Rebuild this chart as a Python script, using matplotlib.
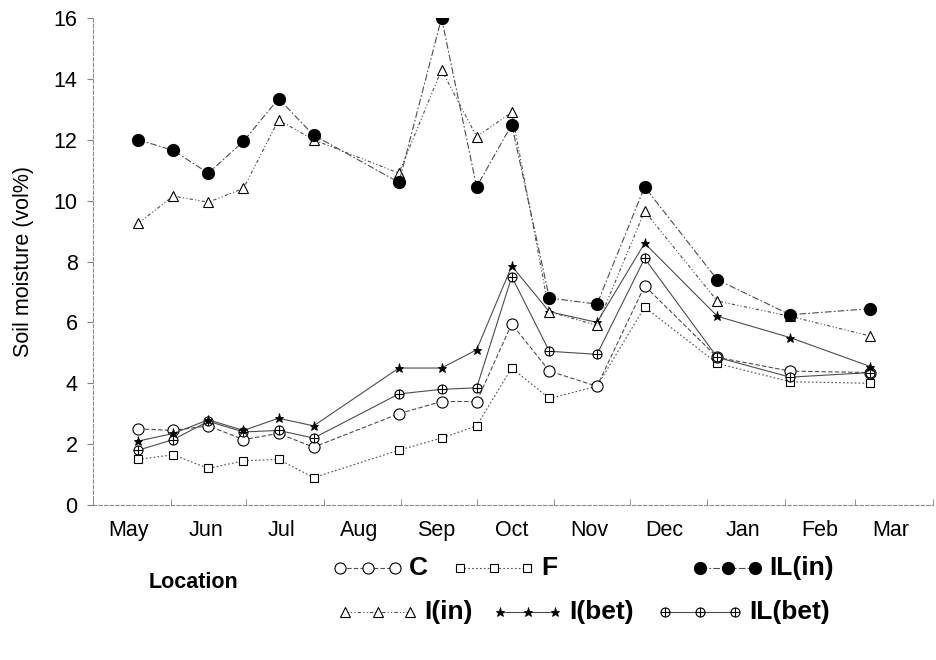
import matplotlib
matplotlib.use('Agg')
import matplotlib.pyplot as plt
import matplotlib.dates as mdates
from matplotlib.path import Path
import pandas as pd

plt.rcParams['font.family'] = ['Liberation Sans', 'DejaVu Sans']

# Sampling dates (year is arbitrary, only months are shown)
sample_dates = pd.to_datetime([
    '2001-05-19', '2001-06-02', '2001-06-16', '2001-06-30', '2001-07-14',
    '2001-07-28', '2001-08-31', '2001-09-17', '2001-10-01', '2001-10-15',
    '2001-10-30', '2001-11-18', '2001-12-07', '2002-01-05', '2002-02-03',
    '2002-03-07'])

# Soil moisture (vol%) per location
C = [2.5, 2.45, 2.6, 2.15, 2.35, 1.9, 3.0, 3.4, 3.4, 5.95, 4.4, 3.9, 7.2, 4.85, 4.4, 4.35]
F = [1.5, 1.65, 1.2, 1.45, 1.5, 0.9, 1.8, 2.2, 2.6, 4.5, 3.5, 3.9, 6.5, 4.65, 4.05, 4.0]
IL_in = [12.0, 11.65, 10.9, 11.95, 13.35, 12.15, 10.6, 16.0, 10.45, 12.5, 6.8, 6.6, 10.45, 7.4, 6.25, 6.45]
I_in = [9.25, 10.15, 9.95, 10.4, 12.65, 12.0, 10.9, 14.3, 12.1, 12.9, 6.35, 5.9, 9.65, 6.7, 6.2, 5.55]
I_bet = [2.1, 2.35, 2.8, 2.45, 2.85, 2.6, 4.5, 4.5, 5.1, 7.85, 6.35, 6.0, 8.6, 6.2, 5.5, 4.55]
IL_bet = [1.8, 2.15, 2.75, 2.4, 2.45, 2.2, 3.65, 3.8, 3.85, 7.5, 5.05, 4.95, 8.1, 4.85, 4.2, 4.35]

series = {'C': C, 'F': F, 'IL(in)': IL_in, 'I(in)': I_in, 'I(bet)': I_bet, 'IL(bet)': IL_bet}

# circle with a cross inside
oplus = Path.make_compound_path(
    Path.unit_circle(),
    Path([[-1, 0], [1, 0], [0, -1], [0, 1]],
         [Path.MOVETO, Path.LINETO, Path.MOVETO, Path.LINETO]))

line_col = '0.3'
styles = {
    'C': dict(ls=(0, (4, 2)), marker='o', ms=8, mfc='white', mec='black', mew=0.8),
    'F': dict(ls=(0, (1.5, 2)), marker='s', ms=6, mfc='white', mec='black', mew=0.8),
    'IL(in)': dict(ls=(0, (6, 2, 1.5, 2)), marker='o', ms=8.5, mfc='black', mec='black'),
    'I(in)': dict(ls=(0, (3, 2, 1, 2, 1, 2)), marker='^', ms=6.5, mfc='white', mec='black', mew=0.8),
    'I(bet)': dict(ls='-', marker='*', ms=6.5, mfc='black', mec='black', mew=0.6),
    'IL(bet)': dict(ls='-', marker=oplus, ms=6.5, mfc='white', mec='black', mew=0.8),
}

fig = plt.figure(figsize=(9.36, 6.6), dpi=100)

# overlay axes in pixel units for the hand-made legend block
lax = fig.add_axes([0, 0, 1, 1])
lax.set_xlim(0, 936)
lax.set_ylim(660, 0)
lax.axis('off')

ax = fig.add_axes([93 / 936, 1 - 505 / 660, 840 / 936, 487 / 660])
ax.patch.set_alpha(0)

for name in ['F', 'C', 'IL(bet)', 'I(bet)', 'I(in)', 'IL(in)']:
    ax.plot(sample_dates, series[name], color=line_col, lw=0.8, **styles[name])

ax.set_ylim(0, 16)
ax.set_xlim(pd.Timestamp('2001-05-01'), pd.Timestamp('2002-04-01'))
ax.set_yticks(range(0, 17, 2))
ax.set_ylabel('Soil moisture (vol%)', fontsize=15.5, labelpad=14)

ax.xaxis.set_major_locator(mdates.MonthLocator(bymonthday=15))
ax.xaxis.set_major_formatter(mdates.DateFormatter('%b'))
ax.xaxis.set_minor_locator(mdates.MonthLocator(bymonthday=1))
ax.tick_params(axis='x', which='major', length=0, pad=11, labelsize=15.5)
ax.tick_params(axis='x', which='minor', direction='in', length=4, color='0.5')
ax.tick_params(axis='y', direction='out', length=4, color='0.5', pad=7, labelsize=15.5)

for side in ['top', 'right']:
    ax.spines[side].set_visible(False)
for side in ['left', 'bottom']:
    ax.spines[side].set_color('0.55')
    ax.spines[side].set_linewidth(0.8)
    ax.spines[side].set_linestyle((0, (3, 2)))

# legend block
lax.text(194, 582, 'Location', fontsize=15.5, fontweight='bold', ha='center', va='center')
legend_rows = [
    ('C', 340, 395, 568), ('F', 460, 527, 568), ('IL(in)', 700, 755, 568),
    ('I(in)', 345, 410, 612), ('I(bet)', 500, 555, 612), ('IL(bet)', 665, 735, 612),
]
for name, x0, x1, y in legend_rows:
    lax.plot([x0, (x0 + x1) / 2, x1], [y, y, y], color=line_col, lw=0.8, **styles[name])
    lax.text(x1 + 14, y, name, fontsize=19, fontweight='bold', va='center', ha='left')

fig.savefig('out.png', dpi=100)
